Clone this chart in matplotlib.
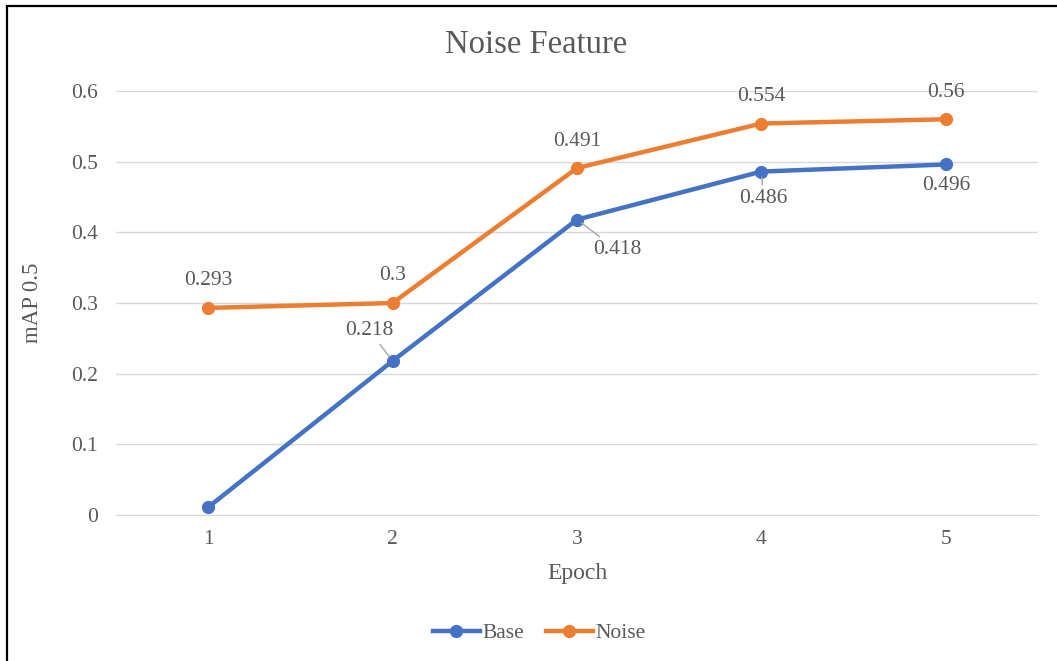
import matplotlib.pyplot as plt
from matplotlib.patches import Rectangle

plt.rcParams['font.family'] = ['Liberation Serif', 'DejaVu Serif']

epochs = [1, 2, 3, 4, 5]
base = [0.011, 0.218, 0.418, 0.486, 0.496]
noise = [0.293, 0.3, 0.491, 0.554, 0.56]
yticks = [0, 0.1, 0.2, 0.3, 0.4, 0.5, 0.6]

grey = '#595959'
c_base = '#4472C4'
c_noise = '#ED7D31'

W, H = 1057, 661
fig = plt.figure(figsize=(W / 100, H / 100), dpi=100)
ax = fig.add_axes([116 / W, 1 - 515 / H, 922 / W, 424 / H])

ax.plot(epochs, base, color=c_base, lw=3.2, marker='o', ms=8.5, label='Base', zorder=3)
ax.plot(epochs, noise, color=c_noise, lw=3.2, marker='o', ms=8.5, label='Noise', zorder=3)

ax.set_xlim(0.5, 5.5)
ax.set_ylim(0, 0.6)
ax.set_xticks(epochs)
ax.set_xticklabels([str(e) for e in epochs])
ax.set_yticks(yticks)
ax.set_yticklabels([f'{t:g}' for t in yticks])
ax.grid(axis='y', color='#D9D9D9', lw=1)
ax.set_axisbelow(True)
for s in ['left', 'right', 'top']:
    ax.spines[s].set_visible(False)
ax.spines['bottom'].set_color('#D9D9D9')
ax.tick_params(length=0, labelsize=15.5, labelcolor=grey)
ax.tick_params(axis='y', pad=13)
ax.tick_params(axis='x', pad=11)

# titles placed on the figure, centred like the chart area
fig.text(536 / W, 1 - 45 / H, 'Noise Feature', fontsize=23.5, color=grey,
         ha='center', va='center')
fig.text(577 / W, 1 - 573 / H, 'Epoch', fontsize=17, color=grey,
         ha='center', va='center')
fig.text(33 / W, 1 - 303 / H, 'mAP 0.5', fontsize=16.5, color=grey,
         ha='center', va='center', rotation=90)

# value labels: orange above, blue mostly below with leader lines
for x, y in zip(epochs, noise):
    ax.annotate(f'{y:g}', (x, y), xytext=(0, 27), textcoords='offset pixels',
                ha='center', va='center', fontsize=15.5, color=grey)

leader = dict(arrowstyle='-', color='#A6A6A6', lw=1, shrinkA=1, shrinkB=4)
base_offsets = {2: (-23, 30), 3: (40, -30), 4: (2, -27), 5: (0, -21)}
for x, y in zip(epochs, base):
    if x not in base_offsets:
        continue
    dx, dy = base_offsets[x]
    arrow = leader if x in (2, 3, 4) else None
    ax.annotate(f'{y:g}', (x, y), xytext=(dx, dy), textcoords='offset pixels',
                ha='center', va='center', fontsize=15.5, color=grey,
                arrowprops=arrow)

leg = fig.legend(loc='center', bbox_to_anchor=(539 / W, 1 - 633 / H), ncol=2,
                 frameon=False, fontsize=15.5, handlelength=2.2, columnspacing=1.0,
                 handletextpad=0.1)
for t in leg.get_texts():
    t.set_color(grey)

fig.patches.append(Rectangle((7 / W, -0.2), 1.2, 1.2 - 6 / H, transform=fig.transFigure,
                             fill=False, ec='black', lw=1.6))

fig.savefig('out.png', dpi=100)
